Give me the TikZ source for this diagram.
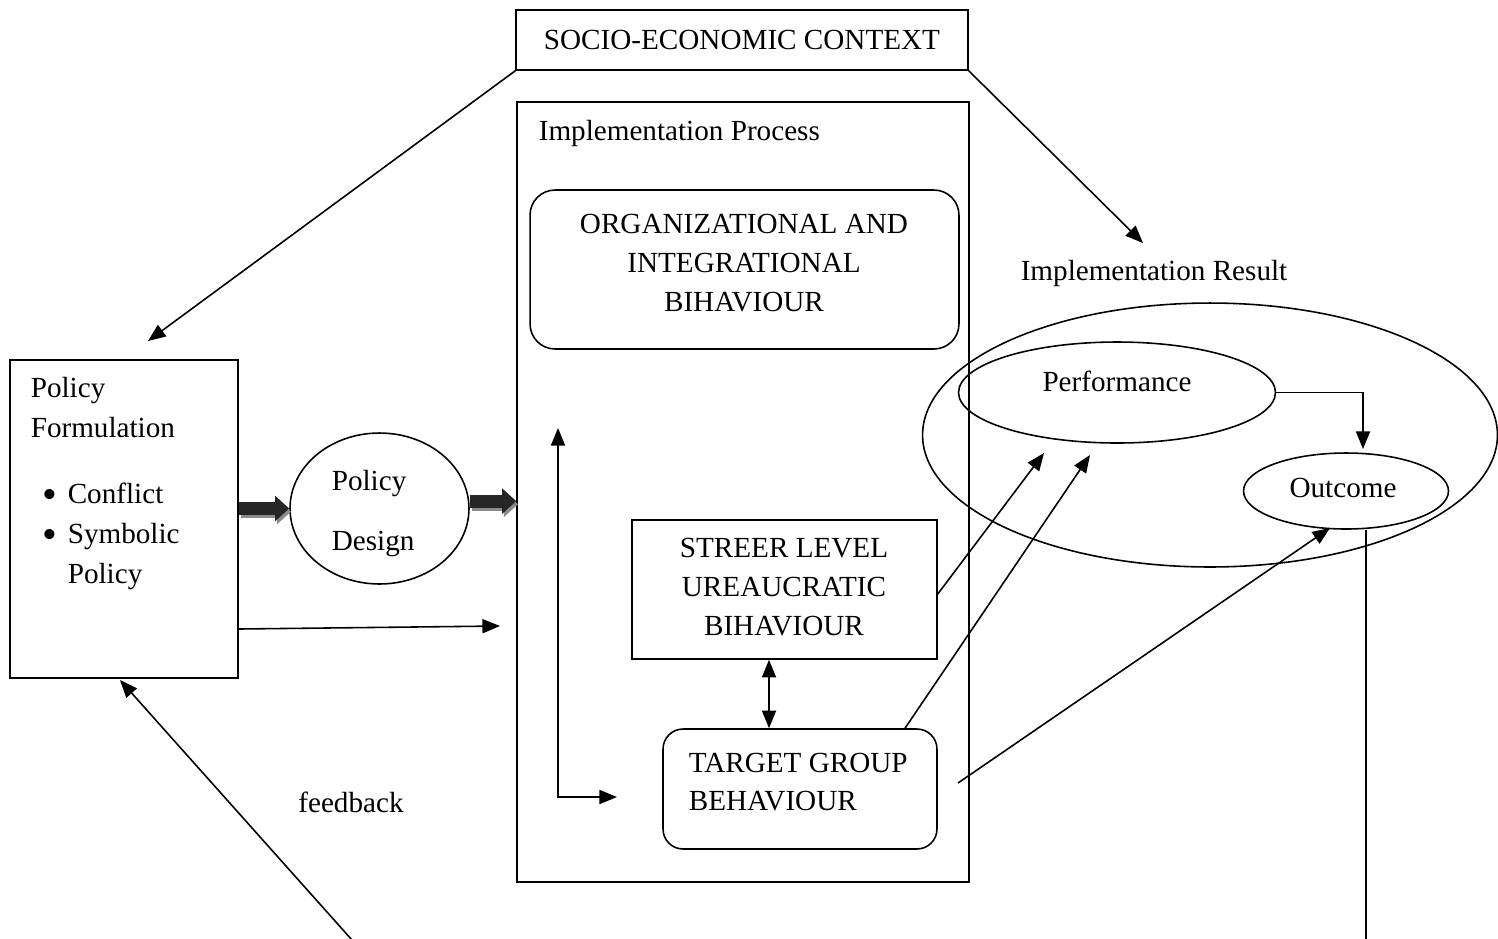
\documentclass[tikz,border=0pt]{standalone}
\usepackage{fontspec}
\setmainfont{Liberation Serif}
\usetikzlibrary{arrows.meta,shapes.geometric}
\begin{document}
\begin{tikzpicture}[x=0.02cm,y=-0.02cm,
  line width=0.9pt,
  tip/.tip={Triangle[length=10pt,width=8pt]},
  arr/.style={-tip},
  dblarr/.style={tip-tip},
  box/.style={draw, rectangle, inner sep=0pt},
  rbox/.style={box, rounded corners=#1},
  oval/.style={draw, ellipse, inner sep=0pt},
  txt/.style={font=\fontsize{16.6}{22}\selectfont, inner sep=0pt},
  bullet/.style={font=\fontsize{24}{24}\selectfont, inner sep=0pt},
  blockarr/.style={line width=7.5pt, black!85, -{Triangle[length=8pt,width=14pt]}},
  blockshade/.style={line width=7.5pt, black!45, -{Triangle[length=8pt,width=14pt]}}
]
\useasboundingbox (0,0) rectangle (1498,938);

% main boxes
\node[box, minimum width=9.04cm, minimum height=1.2cm] (se) at (742,40) {};
\node[txt, anchor=base] (setxt) at (742,49) {SOCIO-ECONOMIC CONTEXT};

\node[box, minimum width=9.04cm, minimum height=15.6cm] (impl) at (743,492) {};
\node[txt, anchor=base west] (impltxt) at (538,140) {Implementation Process};

\node[rbox=0.5cm, minimum width=8.58cm, minimum height=3.18cm] (org) at (744.5,269.5) {};
\node[txt, align=center] (orgtxt) at (744,263) {ORGANIZATIONAL AND\\INTEGRATIONAL\\BIHAVIOUR};

\node[box, minimum width=6.1cm, minimum height=2.78cm] (stb) at (784.5,589.5) {};
\node[txt, align=center] (stbtxt) at (784,587) {STREER LEVEL\\UREAUCRATIC\\BIHAVIOUR};

\node[rbox=0.4cm, minimum width=5.48cm, minimum height=2.4cm] (tg) at (800,789) {};
\node[txt, align=left, anchor=west] (tgtxt) at (688,782) {TARGET GROUP\\BEHAVIOUR};

% policy formulation
\node[box, minimum width=4.56cm, minimum height=6.36cm] (pf) at (124,519) {};
\node[txt, anchor=base west] (pf1) at (30,397) {Policy};
\node[txt, anchor=base west] (pf2) at (30,437) {Formulation};
\node[bullet] (bul1) at (50,499) {•};
\node[txt, anchor=base west] (pf3) at (67,503) {Conflict};
\node[bullet] (bul2) at (50,539) {•};
\node[txt, anchor=base west] (pf4) at (67,543) {Symbolic};
\node[txt, anchor=base west] (pf5) at (67,583) {Policy};

% policy design
\node[oval, minimum width=3.58cm, minimum height=3.02cm] (pd) at (379.5,508.5) {};
\node[txt, anchor=base west] (pd1) at (331,490) {Policy};
\node[txt, anchor=base west] (pd2) at (331,550) {Design};

% implementation result
\node[txt, anchor=base] (irtxt) at (1154,280) {Implementation Result};
\node[oval, minimum width=11.5cm, minimum height=5.28cm] (ir) at (1210,435) {};
\node[oval, minimum width=6.34cm, minimum height=2.02cm] (perf) at (1117,392.5) {};
\node[txt, anchor=base] (perftxt) at (1117,391) {Performance};
\node[oval, minimum width=4.1cm, minimum height=1.52cm] (out) at (1346,491) {};
\node[txt, anchor=base] (outtxt) at (1343,497) {Outcome};

\node[txt, anchor=base] (fbtxt) at (351,812) {feedback};

% free ends of connectors
\coordinate (c1) at (148,341);
\coordinate (c2) at (1143,243);
\coordinate (c3) at (0,629);
\coordinate (c4) at (500,626);
\coordinate (c5) at (352,940);
\coordinate (c6) at (120,680);
\coordinate (c7) at (1363,449);
\coordinate (c8) at (1366,940);
\coordinate (c9) at (769,0);
\coordinate (c10) at (558,428);
\coordinate (c11) at (617,797);
\coordinate (c12) at (0,594);
\coordinate (c13) at (1044,453);
\coordinate (c14) at (905,0);
\coordinate (c15) at (1090,455);
\coordinate (c16) at (958,783);
\coordinate (c17) at (1330,528);

% connectors
\draw[arr] (se.south west) -- (c1);
\draw[arr] (se.south east) -- (c2);
\draw[arr] (pf.east |- c3) -- (c4);
\draw[arr] (c5) -- (c6);
\draw[arr] (perf.east) -| (c7);
\draw (c8 |- out.south) -- (c8);
\draw[dblarr] (c9 |- stb.south) -- (c9 |- tg.north);
\draw[dblarr] (c10) |- (c11);
\draw[arr] (stb.east |- c12) -- (c13);
\draw[arr] (tg.north -| c14) -- (c15);
\draw[arr] (c16) -- (c17);

% thick block arrows
\coordinate (b1s) at (pf.east |- pd.west);
\coordinate (b2s) at ([yshift=4.2pt]pd.east);
\coordinate (b2e) at (b2s -| impl.west);
\draw[blockshade] ([shift={(1pt,-1.8pt)}]b1s) -- ([shift={(1pt,-1.8pt)}]pd.west);
\draw[blockarr] (b1s) -- (pd.west);
\draw[blockshade] ([shift={(1pt,-1.8pt)}]b2s) -- ([shift={(1pt,-1.8pt)}]b2e);
\draw[blockarr] (b2s) -- (b2e);
\end{tikzpicture}
\end{document}
